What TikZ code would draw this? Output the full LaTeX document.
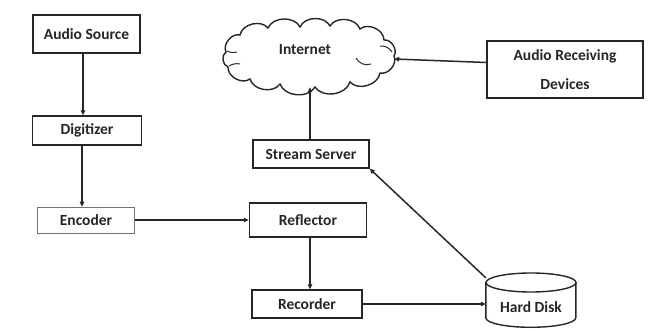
\documentclass[tikz,border=0pt]{standalone}
\usepackage{fontspec}
\setmainfont{Carlito}
\usetikzlibrary{shapes.symbols,shapes.geometric,arrows.meta}
\tikzset{
  lbl/.style={font=\bfseries\fontsize{15.5}{18}\selectfont, text=black!85},
  box/.style={draw=black!85, line width=1.4pt, fill=white, lbl, inner sep=0pt},
  lightbox/.style={box, draw=black!55, line width=0.7pt},
  conn/.style={line width=1.5pt, draw=black!85, -{Triangle[length=5pt,width=4.5pt]}},
  outline/.style={draw=black!85, line width=1.4pt},
  puff/.style={bend left=65},
  x=1pt, y=-1pt
}
\begin{document}
\begin{tikzpicture}
\useasboundingbox (0,0) rectangle (651,329);
\node[box, minimum width=107pt, minimum height=38pt] (src) at (86.5,34) {Audio Source};
\node[box, minimum width=109pt, minimum height=29pt] (dig) at (87,130.5) {Digitizer};
\node[lightbox, minimum width=97pt, minimum height=26pt] (enc) at (86,220) {Encoder};
\node[box, minimum width=117pt, minimum height=34pt] (refl) at (308,220) {Reflector};
\node[box, minimum width=110pt, minimum height=28pt] (rec) at (307,304) {Recorder};
\node[box, minimum width=116pt, minimum height=28pt] (ss) at (311,154) {Stream Server};
\node[box, minimum width=156pt, minimum height=57pt, align=center, font=\bfseries\fontsize{15.5}{29}\selectfont] (ard) at (565,69.5) {Audio Receiving\\Devices};
% Internet cloud
\node[ellipse, minimum width=172pt, minimum height=62pt, inner sep=0pt] (net) at (308,56) {};
\draw[outline, fill=white] (226,52) to[puff] (240,35) to[puff] (268,28) to[puff] (300,27)
  to[puff] (330,26) to[puff] (360,29) to[puff] (384,40) to[puff] (394,56)
  to[puff] (380,73) to[puff] (350,82) to[puff] (315,87) to[puff] (280,84)
  to[puff] (250,79) to[puff] (228,67) to[puff] cycle;
\draw[outline, line width=1pt] (227,51) to[bend right=20] (237,52);
\draw[outline, line width=1pt] (229,66) to[bend left=20] (240,64);
\draw[outline, line width=1pt] (356,58) to[bend right=40] (371,64);
\draw[outline, line width=1pt] (380,46) to[bend left=30] (392,52);
\node[lbl] (nettext) at (305,50) {Internet};
% Hard disk cylinder
\node[minimum width=90pt, minimum height=55pt, inner sep=0pt] (hd) at (531,300.5) {};
\draw[outline, fill=white] (hd.north west) ++(0,9.5) -- ++(0,35.5)
  arc[start angle=180, end angle=0, x radius=45, y radius=9.5] -- ++(0,-35.5);
\draw[outline, fill=white] (531,282.5) ellipse[x radius=45, y radius=9.5];
\node[lbl] (hdtext) at (531,307) {Hard Disk};
\draw[conn] (src.south -| 83,0) -- (dig.north -| 83,0);
\draw[conn] (dig.south -| 82,0) -- (enc.north -| 82,0);
\draw[conn] (enc) -- (refl);
\draw[conn] (refl.south -| 310,0) -- (rec.north -| 310,0);
\draw[conn] (rec) -- (hd.west |- rec);
\draw[conn] ([yshift=-5pt]hd.north west) -- (ss.south east);
\draw[conn] (ss.north -| 310,0) -- (net.south -| 310,0);
\draw[conn] ([yshift=7pt]ard.west) -- ([yshift=-3pt]net.east);
\end{tikzpicture}
\end{document}
